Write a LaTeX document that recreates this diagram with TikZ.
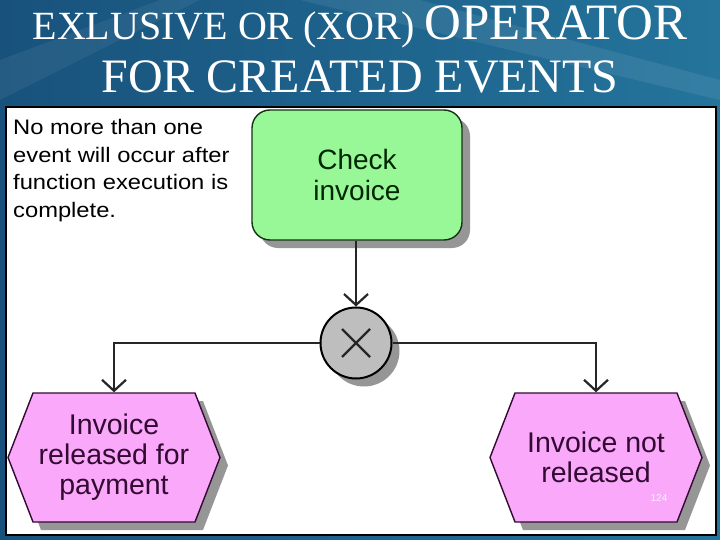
\documentclass[tikz,border=0pt]{standalone}
\usepackage{fontspec}
\setmainfont{Liberation Serif}
\newfontfamily\diagfont{Liberation Sans}
\newfontfamily\notefont[FakeStretch=1.13]{Liberation Sans}
\usetikzlibrary{shapes.symbols,shadows,arrows.meta}
\definecolor{bgdark}{RGB}{24,82,124}
\definecolor{bglight}{RGB}{36,116,156}
\definecolor{funcgreen}{RGB}{152,248,152}
\definecolor{eventpink}{RGB}{250,168,250}
\definecolor{shadowgray}{RGB}{150,150,150}
\definecolor{xorgray}{RGB}{190,190,190}
\definecolor{evborder}{RGB}{50,10,50}
\definecolor{fnborder}{RGB}{20,50,20}
\tikzset{
  conn/.style={line width=2.2pt, draw=black!85},
  arr/.style={conn, -{Straight Barb[length=11pt,width=24pt,line width=2.2pt]}},
  funcbox/.style={draw=fnborder, line width=1.4pt, fill=funcgreen, rounded corners=18pt,
    minimum width=210pt, minimum height=130pt, inner sep=0pt, align=center,
    font=\diagfont\fontsize{28}{31}\selectfont, text=black!85!green,
    drop shadow={shadow xshift=8pt, shadow yshift=-8pt, fill=shadowgray, opacity=1}},
  eventbox/.style={draw=evborder, line width=1.4pt, fill=eventpink, shape=signal,
    signal to=west and east, signal pointer angle=137.6,
    minimum width=212pt, minimum height=129pt, inner sep=0pt, align=center,
    font=\diagfont\fontsize{28.5}{30}\selectfont, text=evborder,
    drop shadow={shadow xshift=8pt, shadow yshift=-8pt, fill=shadowgray, opacity=1}},
  xorop/.style={circle, draw=black, line width=2pt, fill=xorgray, minimum size=71pt, inner sep=0pt,
    drop shadow={shadow xshift=8pt, shadow yshift=-8pt, fill=shadowgray, opacity=1},
    path picture={\draw[line width=2.4pt, black!85]
      ([xshift=-14pt,yshift=-14pt]path picture bounding box.center) -- ([xshift=14pt,yshift=14pt]path picture bounding box.center)
      ([xshift=-14pt,yshift=14pt]path picture bounding box.center) -- ([xshift=14pt,yshift=-14pt]path picture bounding box.center);}},
  titletext/.style={text=white, inner sep=0pt, anchor=base}
}
\begin{document}
\begin{tikzpicture}[x=1pt,y=-1pt]
\useasboundingbox (0,0) rectangle (720,540);
% background
\shade[left color=bgdark, right color=bglight] (0,0) rectangle (720,540);
\fill[white, opacity=0.08] (300,0) -- (420,0) -- (720,80) -- (720,100) -- cycle;
\fill[white, opacity=0.06] (0,60) -- (0,100) -- (200,0) -- (160,0) -- cycle;
% title
\node[titletext] (t1) at (360,40) {{\fontsize{40}{40}\selectfont EXLUSIVE OR (XOR) }{\fontsize{51}{51}\selectfont OPERATOR}};
\node[titletext] (t2) at (360,93) {\fontsize{48}{48}\selectfont FOR CREATED EVENTS};
% panel
\fill[white] (6,107) rectangle (716,535);
\draw[line width=1.3pt, black] (6,107) rectangle (716,535);
% note
\node[anchor=north west, align=left, inner sep=0pt, font=\notefont\fontsize{21}{27.7}\selectfont] (note) at (13,119)
  {No more than one\\event will occur after\\function execution is\\complete.};
% diagram
\node[funcbox] (check) at (357,175) {Check\\invoice};
\node[xorop] (xor) at (356,343) {};
\node[eventbox] (ev1) at (114,457.5) {Invoice\\released for\\payment};
\node[eventbox] (ev2) at (596,457.5) {Invoice not\\released};
\node[text=white!80!eventpink, font=\diagfont\fontsize{10}{10}\selectfont, inner sep=0pt] (num) at (659,498) {124};
% connectors
\draw[arr] (check.south -| xor.north) -- (xor.north);
\draw[arr] (xor.west) -| (ev1.north);
\draw[arr] (xor.east) -| (ev2.north);
\end{tikzpicture}
\end{document}
